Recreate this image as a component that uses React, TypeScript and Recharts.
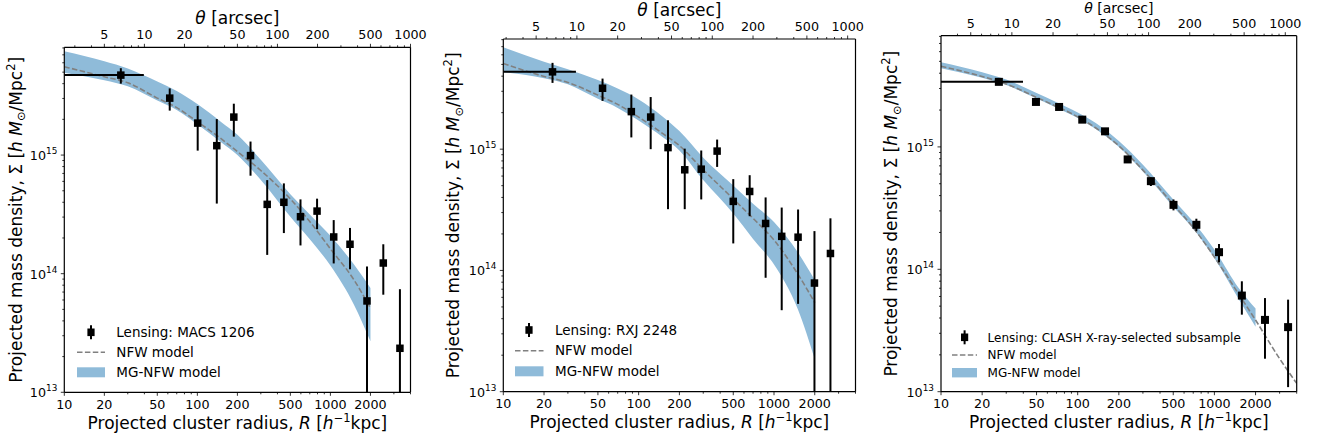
import React from 'react';
import {
  ComposedChart,
  XAxis,
  YAxis,
  Area,
  Line,
  Scatter,
  ErrorBar,
  ReferenceLine,
  Legend,
} from 'recharts';

const FONT = "'DejaVu Sans', 'Noto Sans', sans-serif";
const BAND_BLUE = '#8fbbd9';
const NFW_GREY = '#808080';

// axis ranges and tick labels (shared by the three panels)
const R_DOMAIN: [number, number] = [10, 4000];
const SIGMA_DOMAIN: [number, number] = [1e13, 8.1e15];
const R_LABELS = [10, 20, 50, 100, 200, 500, 1000, 2000];
const THETA_LABELS = [5, 10, 20, 50, 100, 200, 500, 1000];
const SIGMA_LABELS = [1e13, 1e14, 1e15];
const MANTISSAS = [1, 2, 3, 4, 5, 6, 7, 8, 9];

const MODEL_R = [10, 20, 30, 50, 70, 100, 150, 200, 300, 500, 700, 1000, 1500, 2000];
const MODEL_R_LONG = [10, 20, 30, 50, 70, 100, 150, 200, 300, 500, 700, 1000, 1500, 2000, 3000, 4000];

// ---- MACS 1206 ----
const macsR = [26.6, 62, 100.6, 140, 188, 251, 335, 447, 596, 794, 1059, 1404, 1884, 2498, 3331];
const macsSigma = [4.72e15, 3.02e15, 1.86e15, 1.2e15, 2.09e15, 9.9e14, 3.84e14, 4.0e14, 3.02e14, 3.37e14, 2.04e14, 1.77e14, 5.89e13, 1.23e14, 2.35e13];
const macsLow = [4.0e15, 2.37e15, 1.09e15, 3.9e14, 1.43e15, 6.7e14, 1.44e14, 2.2e14, 1.73e14, 2.37e14, 1.22e14, 1.09e14, 1e13, 6.65e13, 1e13];
const macsHigh = [5.4e15, 3.65e15, 2.59e15, 2.01e15, 2.71e15, 1.3e15, 6.15e14, 5.77e14, 4.23e14, 4.29e14, 2.83e14, 2.43e14, 1.15e14, 1.77e14, 7.4e13];
const macsRSpan = [10, 39.6];
const macsNfw = [5.56e15, 4.57e15, 4.07e15, 3.02e15, 2.51e15, 1.91e15, 1.38e15, 1.07e15, 7.41e14, 4.27e14, 2.75e14, 1.62e14, 8.91e13, 5.13e13];
const macsMgLow = [4.95e15, 4.27e15, 3.8e15, 2.88e15, 2.4e15, 1.82e15, 1.29e15, 1.0e15, 6.17e14, 3.02e14, 1.95e14, 1.17e14, 5.5e13, 2.69e13];
const macsMgHigh = [7.5e15, 6.17e15, 5.37e15, 4.17e15, 3.47e15, 2.69e15, 1.91e15, 1.48e15, 9.12e14, 4.68e14, 3.16e14, 2.09e14, 1.2e14, 7.59e13];

// ---- RXJ 2248 ----
const rxjR = [23.1, 54.1, 88.3, 122.7, 164.8, 219, 290, 380, 500, 661, 867, 1140, 1506, 1990, 2612];
const rxjSigma = [4.34e15, 3.18e15, 2.04e15, 1.84e15, 1.03e15, 6.76e14, 6.84e14, 9.64e14, 3.71e14, 4.48e14, 2.44e14, 1.91e14, 1.88e14, 7.87e13, 1.38e14];
const rxjLow = [3.52e15, 2.5e15, 1.25e15, 1.0e15, 3.2e14, 3.2e14, 3.85e14, 7.14e14, 1.67e14, 2.8e14, 8.7e13, 4.7e13, 5.3e13, 1e13, 1e13];
const rxjHigh = [5.15e15, 3.82e15, 2.82e15, 2.69e15, 1.73e15, 1.01e15, 9.75e14, 1.2e15, 5.66e14, 6.1e14, 4.0e14, 3.3e14, 3.18e14, 2.11e14, 2.69e14];
const rxjRSpan = [10, 34.4];
const rxjNfw = [5.09e15, 3.98e15, 3.55e15, 2.79e15, 2.34e15, 1.84e15, 1.35e15, 1.07e15, 6.76e14, 3.89e14, 2.69e14, 1.78e14, 9.33e13, 5.43e13];
const rxjMgLow = [4.32e15, 3.85e15, 3.43e15, 2.6e15, 2.19e15, 1.72e15, 1.26e15, 9.77e14, 5.56e14, 2.95e14, 1.82e14, 1.12e14, 4.79e13, 1.86e13];
const rxjMgHigh = [6.92e15, 5.25e15, 4.57e15, 3.72e15, 3.16e15, 2.57e15, 1.86e15, 1.41e15, 8.51e14, 5.01e14, 3.55e14, 2.51e14, 1.41e14, 8.32e13];

// ---- CLASH X-ray-selected subsample ----
const clashR = [26.5, 49.5, 73.1, 108, 158.5, 232, 343, 502, 738, 1081, 1588, 2344, 3460];
const clashSigma = [3.4e15, 2.33e15, 2.12e15, 1.67e15, 1.34e15, 7.9e14, 5.25e14, 3.36e14, 2.31e14, 1.38e14, 6.1e13, 3.86e13, 3.37e13];
const clashLow = [3.25e15, 2.25e15, 2.04e15, 1.6e15, 1.27e15, 7.53e14, 4.79e14, 3.03e14, 2.05e14, 1.14e14, 4.26e13, 1.86e13, 1.09e13];
const clashHigh = [3.55e15, 2.42e15, 2.2e15, 1.75e15, 1.42e15, 8.34e14, 5.61e14, 3.72e14, 2.59e14, 1.61e14, 7.98e13, 5.82e13, 5.65e13];
const clashRSpan = [10, 39.8];
const clashNfw = [4.56e15, 3.76e15, 3.27e15, 2.54e15, 2.14e15, 1.76e15, 1.32e15, 1.02e15, 6.46e14, 3.39e14, 2.19e14, 1.26e14, 6.31e13, 3.85e13, 1.86e13, 1.17e13];
const clashMgLow = [4.4e15, 3.67e15, 3.2e15, 2.48e15, 2.09e15, 1.72e15, 1.29e15, 1.0e15, 6.31e14, 3.24e14, 2.14e14, 1.23e14, 5.75e13, 3.39e13];
const clashMgHigh = [4.92e15, 4.07e15, 3.55e15, 2.75e15, 2.32e15, 1.91e15, 1.45e15, 1.12e15, 7.16e14, 3.72e14, 2.45e14, 1.45e14, 7.08e13, 4.79e13];

const logTicks = (lo: number, hi: number, decades: number[]) =>
  decades
    .flatMap((d) => MANTISSAS.map((m) => m * d))
    .filter((v) => v >= lo * 0.999 && v <= hi * 1.001);

const R_TICKS = logTicks(R_DOMAIN[0], R_DOMAIN[1], [10, 100, 1000]);
const SIGMA_TICKS = logTicks(SIGMA_DOMAIN[0], SIGMA_DOMAIN[1], [1e13, 1e14, 1e15]);

const toPoints = (r: number[], s: number[], lo: number[], hi: number[], span: number[]) =>
  r.map((rv, i) => ({
    r: rv,
    s: s[i],
    ey: [s[i] - lo[i], hi[i] - s[i]],
    ...(i === 0 ? { ex: [rv - span[0], span[1] - rv] } : {}),
  }));

const toBand = (lo: number[], hi: number[]) => MODEL_R.map((r, i) => ({ r, band: [lo[i], hi[i]] }));
const toCurve = (rs: number[], v: number[]) => rs.map((r, i) => ({ r, nfw: v[i] }));

const PANELS = [
  {
    name: 'Lensing: MACS 1206',
    left: 0, width: 440, yAxisW: 64.3, marginRight: 29.5, topH: 47.3, bottomH: 48.7,
    yTitleX: 21.7, thetaDomain: [2.5, 1000] as [number, number], marker: 7.5,
    theta: { font: 17, lift: 23.3, tickGap: 8.5 },
    points: toPoints(macsR, macsSigma, macsLow, macsHigh, macsRSpan),
    band: toBand(macsMgLow, macsMgHigh),
    nfw: toCurve(MODEL_R, macsNfw),
    legend: { left: 76.7, top: 320, markerX: 14, textX: 39.3, rows: [12.3, 32.3, 52.3], lineW: 28, font: 13.5, patchH: 10 },
  },
  {
    name: 'Lensing: RXJ 2248',
    left: 440, width: 440, yAxisW: 63.3, marginRight: 24.5, topH: 39, bottomH: 49.3,
    yTitleX: 19.3, thetaDomain: [2.86, 1143] as [number, number], marker: 7.5,
    theta: { font: 17, lift: 23.3, tickGap: 8.5 },
    points: toPoints(rxjR, rxjSigma, rxjLow, rxjHigh, rxjRSpan),
    band: toBand(rxjMgLow, rxjMgHigh),
    nfw: toCurve(MODEL_R, rxjNfw),
    legend: { left: 75.3, top: 318, markerX: 14, textX: 40, rows: [12, 32.7, 53.3], lineW: 28.5, font: 13.5, patchH: 10 },
  },
  {
    name: 'Lensing: CLASH X-ray-selected subsample',
    left: 880, width: 441, yAxisW: 61, marginRight: 24.3, topH: 35.7, bottomH: 49.3,
    yTitleX: 17.3, thetaDomain: [3.03, 1212] as [number, number], marker: 8,
    // the top title sits against the page edge here, so it is a little smaller
    theta: { font: 14, lift: 22.6, tickGap: 7.3 },
    points: toPoints(clashR, clashSigma, clashLow, clashHigh, clashRSpan),
    band: toBand(clashMgLow, clashMgHigh),
    nfw: toCurve(MODEL_R_LONG, clashNfw),
    legend: { left: 71.7, top: 325, markerX: 12.6, textX: 35.6, rows: [12.3, 30, 47.7], lineW: 25, font: 12, patchH: 9.4 },
  },
];

type PanelCfg = (typeof PANELS)[number];

const BottomTick = (props: any) => {
  const { x, y, payload } = props;
  const lab = R_LABELS.includes(payload.value);
  return (
    <g>
      <line x1={x} x2={x} y1={y} y2={y + (lab ? 3.5 : 2)} stroke="#000" strokeWidth={0.8} />
      {lab && (
        <text x={x} y={y + 16.7} textAnchor="middle" fontSize={12.7} fontFamily={FONT} fill="#000">
          {payload.value}
        </text>
      )}
    </g>
  );
};

const TopTick = (props: any) => {
  const { x, y, payload, gap } = props;
  const lab = THETA_LABELS.includes(payload.value);
  return (
    <g>
      <line x1={x} x2={x} y1={y} y2={y - (lab ? 3.5 : 2)} stroke="#000" strokeWidth={0.8} />
      {lab && (
        <text x={x} y={y - gap} textAnchor="middle" fontSize={12.7} fontFamily={FONT} fill="#000">
          {payload.value}
        </text>
      )}
    </g>
  );
};

const LeftTick = (props: any) => {
  const { x, y, payload } = props;
  const lab = SIGMA_LABELS.includes(payload.value);
  const exp = Math.round(Math.log10(payload.value));
  return (
    <g>
      <line x1={x} x2={x - (lab ? 3.5 : 2)} y1={y} y2={y} stroke="#000" strokeWidth={0.8} />
      {lab && (
        <text x={x - 7} y={y + 5} textAnchor="end" fontSize={12.7} fontFamily={FONT} fill="#000">
          10
          <tspan dy={-6} fontSize={8.9}>{exp}</tspan>
        </text>
      )}
    </g>
  );
};

const XTitle = ({ viewBox }: any) => (
  <text x={viewBox.x + viewBox.width / 2} y={viewBox.y + 36.7} textAnchor="middle" fontSize={17} fontFamily={FONT} fill="#000">
    Projected cluster radius, <tspan fontStyle="italic">R</tspan> [<tspan fontStyle="italic">h</tspan>
    <tspan dy={-7} fontSize={11.5}>−1</tspan>
    <tspan dy={7}>kpc]</tspan>
  </text>
);

const ThetaTitle = ({ viewBox, font, lift }: any) => (
  <text
    x={viewBox.x + viewBox.width / 2}
    y={viewBox.y + viewBox.height - lift}
    textAnchor="middle"
    fontSize={font}
    fontFamily={FONT}
    fill="#000"
  >
    <tspan fontStyle="italic">θ</tspan> [arcsec]
  </text>
);

const YTitle = ({ viewBox, bx }: any) => (
  <g transform={`translate(${bx}, ${viewBox.y + viewBox.height / 2}) rotate(-90)`}>
    <text x={0} y={0} textAnchor="middle" fontSize={17} fontFamily={FONT} fill="#000">
      Projected mass density, Σ [<tspan fontStyle="italic">h M</tspan>
      <tspan dy={3.5} fontSize={11.5}>⊙</tspan>
      <tspan dy={-3.5}>/Mpc</tspan>
      <tspan dy={-7} fontSize={11.5}>2</tspan>
      <tspan dy={7}>]</tspan>
    </text>
  </g>
);

const Square = (size: number) => (props: any) => {
  const { cx, cy } = props;
  if (cx == null || cy == null) return <g />;
  return <rect x={cx - size / 2} y={cy - size / 2} width={size} height={size} fill="#000" />;
};

const Nothing = () => <g />;

const LegendBody = ({ cfg }: { cfg: PanelCfg }) => {
  const L = cfg.legend;
  const base = L.font * 0.35;
  return (
    <svg width={330} height={66} style={{ display: 'block', overflow: 'visible' }}>
      <line x1={L.markerX} x2={L.markerX} y1={L.rows[0] - 7} y2={L.rows[0] + 7} stroke="#000" strokeWidth={2} />
      <rect x={L.markerX - 3.6} y={L.rows[0] - 3.8} width={7.2} height={7.6} fill="#000" />
      <text x={L.textX} y={L.rows[0] + base} fontSize={L.font} fontFamily={FONT} fill="#000">{cfg.name}</text>
      <line x1={0} x2={L.lineW} y1={L.rows[1]} y2={L.rows[1]} stroke={NFW_GREY} strokeWidth={1.6} strokeDasharray="5.5 2.4" />
      <text x={L.textX} y={L.rows[1] + base} fontSize={L.font} fontFamily={FONT} fill="#000">NFW model</text>
      <rect x={0} y={L.rows[2] - L.patchH / 2} width={L.lineW} height={L.patchH} fill={BAND_BLUE} />
      <text x={L.textX} y={L.rows[2] + base} fontSize={L.font} fontFamily={FONT} fill="#000">MG-NFW model</text>
    </svg>
  );
};

const Panel = ({ cfg }: { cfg: PanelCfg }) => {
  const thetaTicks = logTicks(cfg.thetaDomain[0], cfg.thetaDomain[1], [1, 10, 100, 1000]);
  // invisible anchor so the top (angle) axis gets a scale
  const thetaAnchor = cfg.thetaDomain.map((t) => ({ t, s: 1e14 }));
  const axisLine = { stroke: '#000', strokeWidth: 1.2 };
  return (
    <ComposedChart width={cfg.width} height={441} margin={{ top: 0, right: cfg.marginRight, bottom: 0, left: 0 }}>
      <XAxis
        xAxisId="r"
        dataKey="r"
        type="number"
        scale="log"
        domain={R_DOMAIN}
        allowDataOverflow
        ticks={R_TICKS}
        interval={0}
        tickSize={0}
        tickMargin={0}
        tickLine={false}
        axisLine={axisLine}
        tick={(p: any) => <BottomTick {...p} />}
        height={cfg.bottomH}
        label={(p: any) => <XTitle {...p} />}
      />
      <XAxis
        xAxisId="theta"
        dataKey="t"
        orientation="top"
        type="number"
        scale="log"
        domain={cfg.thetaDomain}
        allowDataOverflow
        ticks={thetaTicks}
        interval={0}
        tickSize={0}
        tickMargin={0}
        tickLine={false}
        axisLine={axisLine}
        tick={(p: any) => <TopTick {...p} gap={cfg.theta.tickGap} />}
        height={cfg.topH}
        label={(p: any) => <ThetaTitle {...p} font={cfg.theta.font} lift={cfg.theta.lift} />}
      />
      <YAxis
        yAxisId="s"
        dataKey="s"
        type="number"
        scale="log"
        domain={SIGMA_DOMAIN}
        allowDataOverflow
        ticks={SIGMA_TICKS}
        interval={0}
        tickSize={0}
        tickMargin={0}
        tickLine={false}
        axisLine={axisLine}
        tick={(p: any) => <LeftTick {...p} />}
        width={cfg.yAxisW}
        label={(p: any) => <YTitle {...p} bx={cfg.yTitleX} />}
      />
      <Area
        xAxisId="r"
        yAxisId="s"
        data={cfg.band}
        dataKey="band"
        type="monotone"
        stroke="none"
        fill={BAND_BLUE}
        fillOpacity={1}
        isAnimationActive={false}
      />
      <Line
        xAxisId="r"
        yAxisId="s"
        data={cfg.nfw}
        dataKey="nfw"
        type="monotone"
        stroke={NFW_GREY}
        strokeWidth={1.6}
        strokeDasharray="5.5 2.4"
        dot={false}
        isAnimationActive={false}
      />
      <Scatter xAxisId="r" yAxisId="s" data={cfg.points} shape={Square(cfg.marker)} isAnimationActive={false}>
        <ErrorBar dataKey="ey" direction="y" width={0} stroke="#000" strokeWidth={2} />
        <ErrorBar dataKey="ex" direction="x" width={0} stroke="#000" strokeWidth={2} />
      </Scatter>
      <Scatter xAxisId="theta" yAxisId="s" data={thetaAnchor} shape={Nothing} legendType="none" isAnimationActive={false} />
      <ReferenceLine xAxisId="r" yAxisId="s" x={R_DOMAIN[1]} stroke="#000" strokeWidth={1.2} ifOverflow="visible" />
      <Legend
        layout="vertical"
        align="center"
        verticalAlign="middle"
        wrapperStyle={{ left: cfg.legend.left, top: cfg.legend.top, width: 330, height: 66 }}
        content={() => <LegendBody cfg={cfg} />}
      />
    </ComposedChart>
  );
};

export default function App() {
  return (
    <div style={{ position: 'absolute', left: 0, top: 0, width: 1321, height: 441, background: '#fff', fontFamily: FONT }}>
      {PANELS.map((cfg) => (
        <div key={cfg.name} style={{ position: 'absolute', left: cfg.left, top: 0 }}>
          <Panel cfg={cfg} />
        </div>
      ))}
    </div>
  );
}
